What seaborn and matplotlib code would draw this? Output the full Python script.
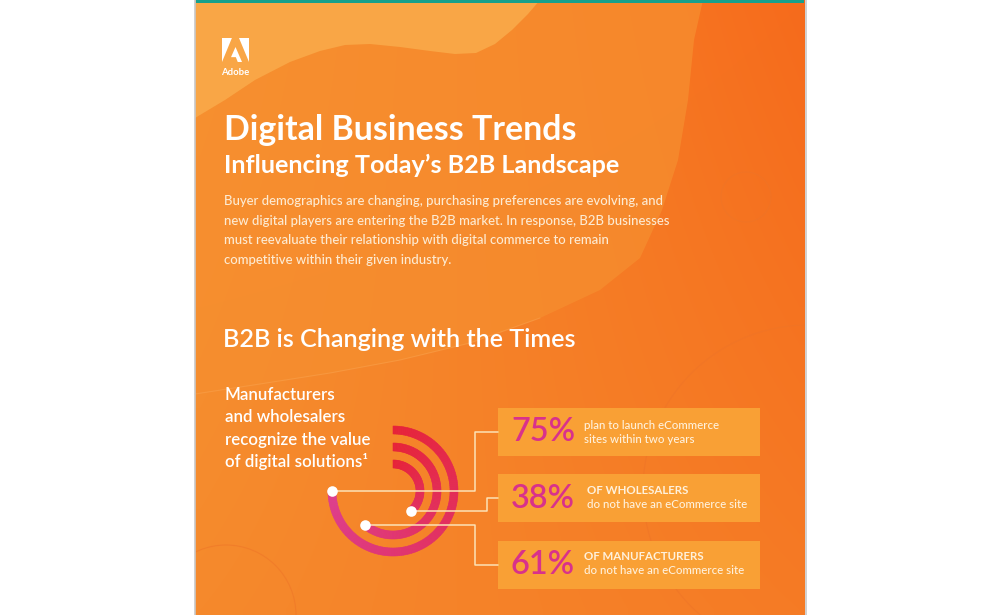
import numpy as np
import matplotlib
matplotlib.use("Agg")
import matplotlib.pyplot as plt
import matplotlib.colors as mcolors
import seaborn as sns
from matplotlib.patches import Polygon, Rectangle, Circle

# ---- chart data ----
stat_values = [75, 38, 61]
stat_heads = ["", "OF WHOLESALERS", "OF MANUFACTURERS"]
stat_lines = [["plan to launch eCommerce", "sites within two years"],
              ["do not have an eCommerce site"],
              ["do not have an eCommerce site"]]

title_lines = ["Digital Business Trends", "Influencing Today\u2019s B2B Landscape"]
intro_lines = [
    "Buyer demographics are changing, purchasing preferences are evolving, and",
    "new digital players are entering the B2B market. In response, B2B businesses",
    "must reevaluate their relationship with digital commerce to remain",
    "competitive within their given industry.",
]
section_title = "B2B is Changing with the Times"
caption_lines = ["Manufacturers", "and wholesalers", "recognize the value",
                 "of digital solutions\u00b9"]

# ---- style ----
sns.set_style("white")
plt.rcParams["font.family"] = ["Lato", "DejaVu Sans"]

CREAM = "#FFF1DC"
MAGENTA = "#D9318B"
BOX = "#F9A035"
LINE = "#FCE2B6"

ring_radius = [61, 27, 44]      # ring used by each stat (outer, inner, middle)
box_top = [408, 474, 540.5]
box_h = 48
elbow_x = [475, 487, 475]

fig = plt.figure(figsize=(10, 6.15), dpi=100)
bg = fig.add_axes([0, 0, 1, 1])
bg.axis("off")
renderer = fig.canvas.get_renderer()


def fit_text(x, y, s, width, **kw):
    t = bg.text(x, y, s, fontsize=20, **kw)
    w = t.get_window_extent(renderer).width
    t.set_fontsize(20 * width / w)
    return t


# ---- background panel ----
panel = Rectangle((195, 0), 610, 615, facecolor="#F5882C", edgecolor="none", zorder=0)
bg.add_patch(panel)

gy, gx = np.mgrid[0:1:60j, 0:1:60j]
tl, tr, bl, br = [np.array(mcolors.to_rgb(c)) for c in ("#F79532", "#F66B1C", "#F5892C", "#F57B25")]
img = (((1 - gx) * (1 - gy))[..., None] * tl + (gx * (1 - gy))[..., None] * tr
       + ((1 - gx) * gy)[..., None] * bl + (gx * gy)[..., None] * br)
bg.imshow(img, extent=(195, 805, 615, 0), aspect="auto", zorder=0.5, interpolation="bilinear")

mid_pts = [(195, 0), (703, 0), (694, 40), (688, 100), (678, 160), (662, 210), (640, 258),
           (600, 290), (540, 318), (470, 343), (400, 360), (330, 373), (260, 384), (195, 394)]
bg.add_patch(Polygon(mid_pts, closed=True, facecolor="#F68E2F", alpha=0.75, edgecolor="none", zorder=1))
lx, ly = zip(*mid_pts[8:])
bg.plot(lx, ly, color="#F9A04A", alpha=0.6, lw=0.8, zorder=1.1)

blob_pts = [(195, 0), (540, 0), (528, 14), (512, 30), (495, 44), (476, 53), (455, 54), (430, 51),
            (400, 47), (370, 44), (345, 45), (320, 51), (290, 62), (255, 80), (225, 100), (195, 118)]
bg.add_patch(Polygon(blob_pts, closed=True, facecolor="#F9A646", edgecolor="none", zorder=1.2))

for (ccx, ccy, rr) in [(746, 197, 25), (808, 490, 165), (226, 615, 70)]:
    c = Circle((ccx, ccy), rr, facecolor="none", edgecolor="#EE7428", alpha=0.55, lw=0.8, zorder=1.3)
    bg.add_patch(c)
    c.set_clip_path(panel)

bg.add_patch(Rectangle((196, 0), 608, 2.5, facecolor="#17A08C", edgecolor="none", zorder=2))
bg.plot([194.5, 194.5], [0, 615], color="#C8C8C8", lw=1.2, zorder=2)
bg.plot([805.5, 805.5], [0, 615], color="#C8C8C8", lw=1.2, zorder=2)

# ---- Adobe logo ----
lx0, ly0, sx, sy = 222, 38, 27 / 240, 24 / 213
logo_shapes = [[(0, 0), (88, 0), (0, 213)],
               [(152, 0), (240, 0), (240, 213)],
               [(120, 80), (178, 213), (140, 213), (123, 170), (80, 170)]]
for shp in logo_shapes:
    bg.add_patch(Polygon([(lx0 + a * sx, ly0 + b * sy) for a, b in shp], closed=True,
                         facecolor="white", edgecolor="none", zorder=3))
fit_text(235.5, 75, "Adobe", 28, color="white", weight="bold", ha="center", va="baseline", zorder=3)

# ---- headings ----
fit_text(224, 140, title_lines[0], 352, color="white", weight="bold", va="baseline", zorder=3)
fit_text(224, 173, title_lines[1], 396, color="white", weight="bold", va="baseline", zorder=3)

t0 = fit_text(224, 205, intro_lines[0], 439, color="#FDEBD3", weight="medium",
              va="baseline", zorder=3)
for i, line in enumerate(intro_lines[1:], start=1):
    bg.text(224, 205 + 19.7 * i, line, fontsize=t0.get_fontsize(), color="#FDEBD3",
            weight="medium", va="baseline", zorder=3)

fit_text(223, 347, section_title, 352, color="white", weight="semibold", va="baseline", zorder=3)

tc = fit_text(225, 445, caption_lines[2], 145, color="white", weight="semibold", va="baseline", zorder=3)
for i, line in enumerate(caption_lines):
    if i == 2:
        continue
    bg.text(225, 400 + 22.5 * i, line, fontsize=tc.get_fontsize(), color="white",
            weight="semibold", va="baseline", zorder=3)

# ---- stat boxes ----
box_c = [t + box_h / 2 for t in box_top]
for top in box_top:
    bg.add_patch(Rectangle((498, top), 262, box_h, facecolor=BOX, edgecolor="none", zorder=2))

td = fit_text(511, box_c[0] + 9, f"{stat_values[0]}%", 64, color=MAGENTA,
              weight="semibold", va="baseline", zorder=3)
tb = fit_text(587, box_c[1] + 10, stat_lines[1][0], 160, color=CREAM, weight="medium",
              va="baseline", zorder=3)
for i, v in enumerate(stat_values):
    c = box_c[i]
    if i > 0:
        bg.text(511, c + 10, f"{v}%", fontsize=td.get_fontsize(), color=MAGENTA,
                weight="semibold", va="baseline", zorder=3)
    tx = 584 if i != 1 else 587
    if stat_heads[i]:
        bg.text(tx, c - 4, stat_heads[i], fontsize=tb.get_fontsize(), color=CREAM,
                weight="bold", va="baseline", zorder=3)
        if i != 1:
            bg.text(tx, c + 10, stat_lines[i][0], fontsize=tb.get_fontsize(), color=CREAM,
                    weight="medium", va="baseline", zorder=3)
    else:
        for k, line in enumerate(stat_lines[i]):
            bg.text(tx, c - 3 + 14 * k, line, fontsize=tb.get_fontsize(), color=CREAM,
                    weight="medium", va="baseline", zorder=3)

bg.set_xlim(0, 1000)
bg.set_ylim(615, 0)

# ---- radial rings ----
cx, cy, R = 393, 491, 70
pax = fig.add_axes([(cx - R) / 1000, (615 - cy - R) / 615, 2 * R / 1000, 2 * R / 615],
                   projection="polar")
pax.set_theta_zero_location("N")
pax.set_theta_direction(-1)
pax.axis("off")
pax.patch.set_alpha(0)

cmap = sns.blend_palette(["#E6223A", "#DD3F91"], as_cmap=True)
for v, r in zip(stat_values, ring_radius):
    end = np.deg2rad(v * 3.6)
    edges = np.linspace(0, end, int(v * 2) + 1)
    cols = cmap(np.clip(edges[:-1] / (1.5 * np.pi), 0, 1))
    pax.bar(edges[:-1], 8, width=np.diff(edges), bottom=r - 4, align="edge",
            color=cols, edgecolor=cols, linewidth=0.4, zorder=1)

end_theta = np.deg2rad(np.array(stat_values) * 3.6)
sns.scatterplot(x=end_theta, y=ring_radius, ax=pax, color="white", s=58,
                linewidth=0, zorder=5, legend=False)
pax.set_xlim(0, 2 * np.pi)
pax.set_ylim(0, R)

# connectors from each ring end to its box
for i, (th, r) in enumerate(zip(end_theta, ring_radius)):
    px, py = bg.transData.inverted().transform(pax.transData.transform((th, r)))
    pax.plot([px, elbow_x[i], elbow_x[i], 498], [py, py, box_c[i], box_c[i]],
             transform=bg.transData, color=LINE, lw=1.1, zorder=3, clip_on=False)

fig.savefig("out.png", dpi=100, facecolor="white")
